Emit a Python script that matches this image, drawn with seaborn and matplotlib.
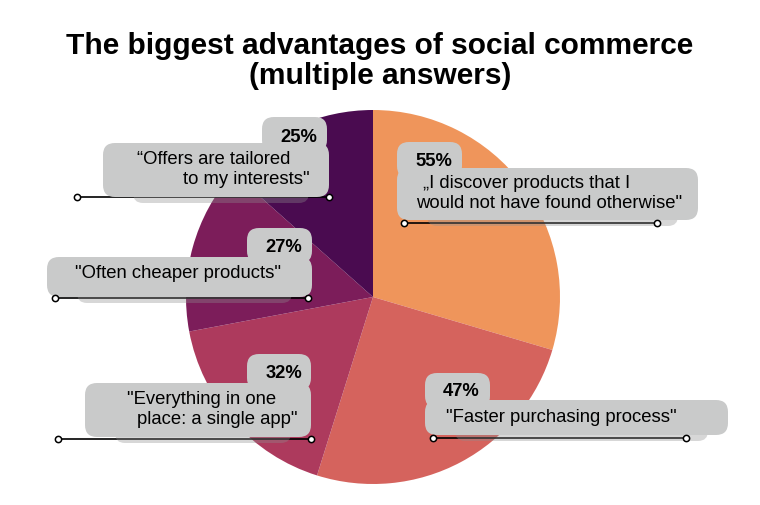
import matplotlib
matplotlib.use("Agg")
import matplotlib.pyplot as plt
from matplotlib.patches import FancyBboxPatch
import seaborn as sns

# data
answers = [
    "„I discover products that I\nwould not have found otherwise\"",
    "\"Faster purchasing process\"",
    "\"Everything in one\nplace: a single app\"",
    "\"Often cheaper products\"",
    "“Offers are tailored\nto my interests\"",
]
shares = [55, 47, 32, 27, 25]
pie_colors = ["#EF955B", "#D5635D", "#AD3A5D", "#7C1D5A", "#4A0B50"]

# label layout in pixels (top-left origin): pct box, label box, line, text anchors
pct_boxes = [(397, 142, 462, 178), (425, 373, 490, 408), (247, 354, 311, 390),
             (247, 228, 312, 263), (262, 117, 327, 152)]
lab_boxes = [(397, 168, 698, 220), (425, 400, 728, 435), (85, 383, 311, 437),
             (47, 257, 312, 297), (103, 143, 329, 197)]
pct_pos = [(415, 162, "left"), (443, 392, "left"), (302, 373, "right"),
           (302, 247, "right"), (317, 137, "right")]
line_pos = [[(423, 184), (416, 204)], [(446, 417)], [(127, 400), (137, 420)],
            [(75, 274)], [(137, 159), (183, 180)]]
leaders = [(404, 657, 223), (433, 686, 438), (58, 311, 439), (55, 308, 298), (77, 329, 197)]

sns.set_theme(style="white")
plt.rcParams['font.family'] = ['Liberation Sans', 'DejaVu Sans']

fig = plt.figure(figsize=(7.6, 5.05), dpi=100)

cx, cy, r = 373, 297, 187
ax = fig.add_axes([(cx - r) / 760, (505 - cy - r) / 505, 2 * r / 760, 2 * r / 505])
ax.pie(shares, colors=sns.color_palette(pie_colors), startangle=90, counterclock=False,
       wedgeprops=dict(linewidth=0))
ax.set_xlim(-1, 1)
ax.set_ylim(-1, 1)
ax.axis("off")

# overlay in pixel coordinates
ov = fig.add_axes([0, 0, 1, 1])
ov.set_xlim(0, 760)
ov.set_ylim(505, 0)
ov.axis("off")
ov.patch.set_alpha(0)

box_fc = "#C9CACA"
for i in range(len(shares)):
    x0, x1, y = leaders[i]
    ov.plot([x0, x1], [y, y], color="black", lw=1.2, zorder=1)
    ov.plot([x0, x1], [y, y], ls="none", marker="o", ms=4.5, mfc="white", mec="black",
            mew=1.1, zorder=5)
    lx0, ly0, lx1, ly1 = lab_boxes[i]
    ov.add_patch(FancyBboxPatch((lx0 + 30, ly0 + 6), lx1 - lx0 - 50, ly1 - ly0,
                                boxstyle="round,pad=0,rounding_size=10",
                                fc="#8E8E8E", ec="none", alpha=0.35, zorder=2))
    for bx0, by0, bx1, by1 in (pct_boxes[i], lab_boxes[i]):
        ov.add_patch(FancyBboxPatch((bx0, by0), bx1 - bx0, by1 - by0,
                                    boxstyle="round,pad=0,rounding_size=12",
                                    fc=box_fc, ec="none", zorder=3))
    px, py, pha = pct_pos[i]
    ov.text(px, py, f"{shares[i]}%", ha=pha, va="center", fontsize=13.2,
            fontweight="bold", color="black", zorder=6)
    for (tx, ty), line in zip(line_pos[i], answers[i].split("\n")):
        ov.text(tx, ty, line, ha="left", va="center", fontsize=13.3, color="black", zorder=6)

fig.text(0.5, 1 - 61 / 505, "The biggest advantages of social commerce\n(multiple answers)",
         ha="center", va="center", fontsize=21.5, fontweight="bold", linespacing=1.08,
         color="black")

fig.savefig("out.png", dpi=100)
